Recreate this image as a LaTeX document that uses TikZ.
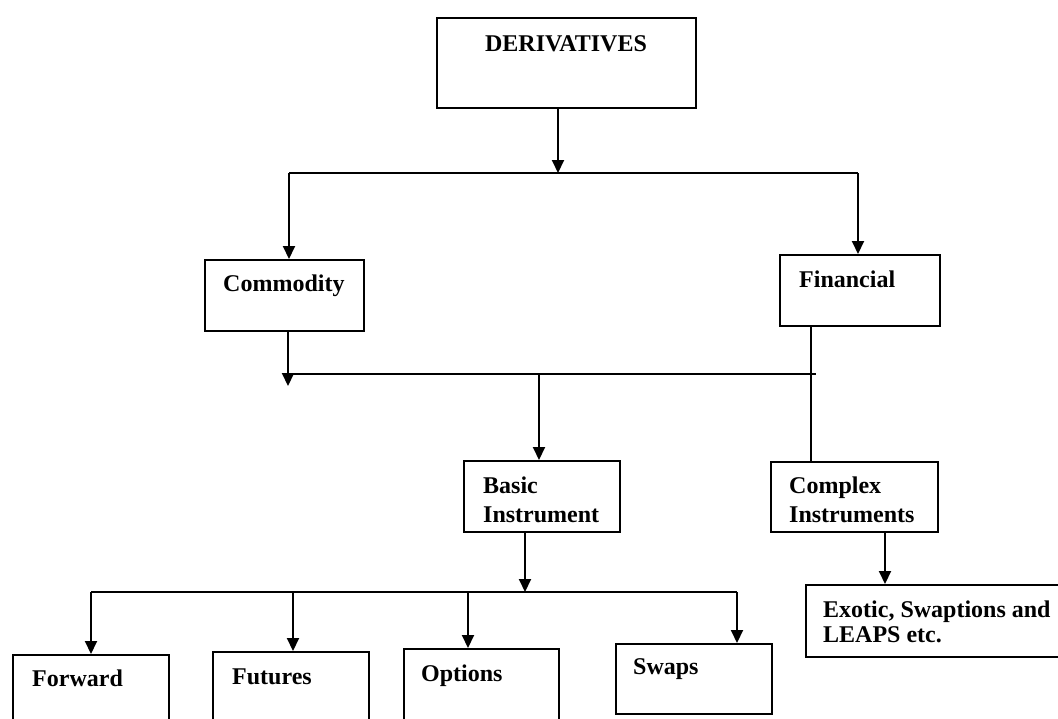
\documentclass[tikz,border=0pt]{standalone}
\usepackage{fontspec}
\setmainfont{Liberation Serif}
\usetikzlibrary{arrows.meta,positioning}

\begin{document}
\begin{tikzpicture}[
    x=1pt, y=-1pt,
    box/.style={draw, line width=2pt, anchor=north west, inner sep=0pt},
    lbl/.style={anchor=base west, inner sep=0pt, align=left, font=\fontsize{24}{29}\selectfont\bfseries},
    line/.style={draw, line width=2pt},
    arrow/.style={line, -{Triangle[length=13pt, width=12pt]}}
]
\useasboundingbox (0,0) rectangle (1058,718);
\clip (0,0) rectangle (1058,718);

% boxes
\node [box, minimum width=259pt, minimum height=90pt] (deriv) at (436,17) {};
\node [box, minimum width=159pt, minimum height=71pt] (commodity) at (204,259) {};
\node [box, minimum width=160pt, minimum height=71pt] (financial) at (779,254) {};
\node [box, minimum width=156pt, minimum height=71pt] (basic) at (463,460) {};
\node [box, minimum width=167pt, minimum height=70pt] (complex) at (770,461) {};
\node [box, minimum width=262pt, minimum height=72pt] (exotic) at (805,584) {};
\node [box, minimum width=156pt, minimum height=80pt] (forward) at (12,654) {};
\node [box, minimum width=156pt, minimum height=80pt] (futures) at (212,651) {};
\node [box, minimum width=155pt, minimum height=80pt] (options) at (403,648) {};
\node [box, minimum width=156pt, minimum height=70pt] (swaps) at (615,643) {};

% texts (two-line texts sit on their last baseline)
\node [lbl, anchor=base] (deriv-t) at (566,51) {DERIVATIVES};
\node [lbl] (commodity-t) at (223,291) {Commodity};
\node [lbl] (financial-t) at (799,287) {Financial};
\node [lbl] (basic-t) at (483,522) {Basic\\Instrument};
\node [lbl] (complex-t) at (789,522) {Complex\\Instruments};
\node [lbl, font=\fontsize{24}{25}\selectfont\bfseries] (exotic-t) at (823,642) {Exotic, Swaptions and\\LEAPS etc.};
\node [lbl] (forward-t) at (32,686) {Forward};
\node [lbl] (futures-t) at (232,684) {Futures};
\node [lbl] (options-t) at (421,681) {Options};
\node [lbl] (swaps-t) at (633,674) {Swaps};

% junctions
\coordinate (top) at (558,173);
\coordinate (top-l) at (289,173);
\coordinate (top-r) at (858,173);
\coordinate (mid-l) at (288,374);
\coordinate (mid-r) at (816,374);
\coordinate (mid-b) at (539,374);
\coordinate (mid-f) at (811,374);
\coordinate (com-end) at (288,386);
\coordinate (low) at (525,592);
\coordinate (low-1) at (91,592);
\coordinate (low-2) at (293,592);
\coordinate (low-3) at (468,592);
\coordinate (low-4) at (737,592);

% connectors
\path [arrow] (deriv.south -| top) -- (top);
\path [line] (top-l) -- (top-r);
\path [arrow] (top-l) -- (top-l |- commodity.north);
\path [arrow] (top-r) -- (top-r |- financial.north);

\path [arrow] (commodity.south -| mid-l) -- (com-end);
\path [line] (mid-l) -- (mid-r);
\path [line] (financial.south -| mid-f) -- (complex.north -| mid-f);
\path [arrow] (mid-b) -- (basic.north -| mid-b);

\path [arrow] (basic.south -| low) -- (low);
\path [line] (low-1) -- (low-4);
\path [arrow] (low-1) -- (low-1 |- forward.north);
\path [arrow] (low-2) -- (low-2 |- futures.north);
\path [arrow] (low-3) -- (low-3 |- options.north);
\path [arrow] (low-4) -- (low-4 |- swaps.north);

\path [arrow] ([xshift=30.5pt]complex.south) -- ([xshift=30.5pt]complex.south |- exotic.north);

\end{tikzpicture}
\end{document}
